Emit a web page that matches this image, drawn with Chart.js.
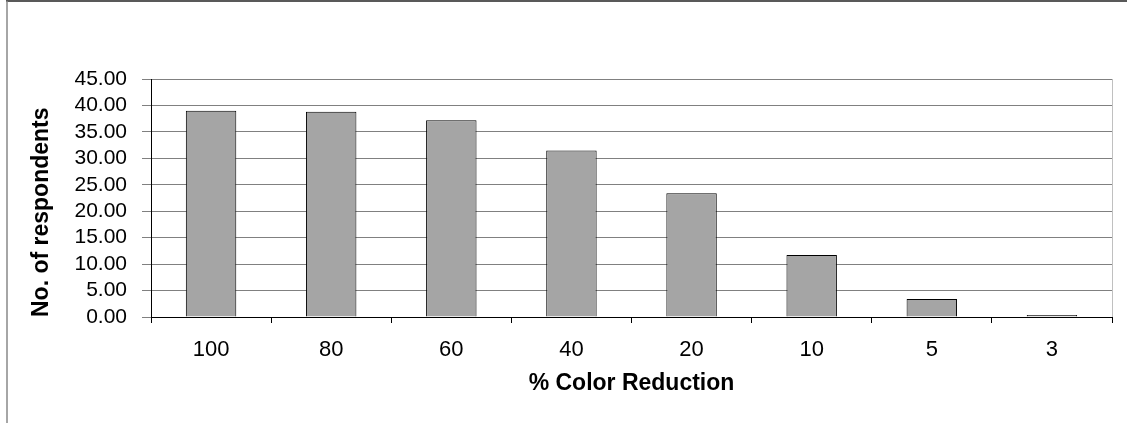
<!DOCTYPE html>
<html>
<head>
<meta charset="utf-8">
<script src="https://cdn.jsdelivr.net/npm/chart.js@4/dist/chart.umd.min.js"></script>
<style>
  html, body { margin: 0; padding: 0; background: #fff; }
  #wrap { width: 1127px; height: 423px; position: relative; }
</style>
</head>
<body>
<div id="wrap"><canvas id="chart" width="1127" height="423"></canvas></div>
<script>
// data
const reductions = ['100', '80', '60', '40', '20', '10', '5', '3'];
const respondents = [39.0, 38.8, 37.2, 31.5, 23.4, 11.7, 3.4, 0.4];
const yMax = 45;
const yStep = 5;

const FONT = '"Liberation Sans", Arial, sans-serif';

// outer frame + light right edge of the plot area
const framePlugin = {
  id: 'frame',
  afterDraw(chart) {
    const ctx = chart.ctx;
    const a = chart.chartArea;
    ctx.save();
    ctx.strokeStyle = '#c0c0c0';
    ctx.lineWidth = 1;
    ctx.beginPath();
    ctx.moveTo(Math.round(a.right) + 0.5, a.top);
    ctx.lineTo(Math.round(a.right) + 0.5, a.bottom);
    ctx.stroke();
    ctx.strokeStyle = '#222';
    ctx.lineWidth = 1.5;
    ctx.beginPath();
    ctx.moveTo(6, 1);
    ctx.lineTo(chart.width, 1);
    ctx.stroke();
    ctx.strokeStyle = '#888';
    ctx.lineWidth = 1.5;
    ctx.beginPath();
    ctx.moveTo(7, 1);
    ctx.lineTo(7, chart.height);
    ctx.stroke();
    ctx.restore();
  }
};

new Chart(document.getElementById('chart').getContext('2d'), {
  type: 'bar',
  data: {
    labels: reductions,
    datasets: [{
      data: respondents,
      backgroundColor: '#a5a5a5',
      borderColor: '#000',
      borderWidth: 1,
      barPercentage: 0.42,
      categoryPercentage: 1
    }]
  },
  options: {
    responsive: false,
    animation: false,
    layout: { padding: { top: 79, right: 15, left: 0, bottom: 0 } },
    plugins: {
      legend: { display: false },
      tooltip: { enabled: false }
    },
    scales: {
      x: {
        offset: true,
        grid: { offset: true, drawOnChartArea: false, drawTicks: true, tickLength: 6, color: '#000' },
        border: { display: true, color: '#000', width: 1 },
        ticks: { color: '#000', padding: 14, font: { family: FONT, size: 22 } },
        title: {
          display: true,
          text: '% Color Reduction',
          color: '#000',
          font: { family: FONT, size: 23, weight: 'bold' },
          padding: { top: 0, bottom: 26 }
        },
        afterFit: s => { s.height = 106; }
      },
      y: {
        min: 0,
        max: yMax,
        ticks: {
          stepSize: yStep,
          autoSkip: false,
          color: '#000',
          padding: 15,
          font: { family: FONT, size: 21 },
          callback: v => v.toFixed(2)
        },
        grid: { color: '#808080', lineWidth: 1, tickLength: 9 },
        border: { display: true, color: '#000', width: 1 },
        title: {
          display: true,
          text: 'No. of respondents',
          align: 'start',
          color: '#000',
          font: { family: FONT, size: 23, weight: 'bold' },
          padding: { top: 28, bottom: 0 }
        },
        afterFit: s => { s.width = 151; }
      }
    }
  },
  plugins: [framePlugin]
});
</script>
</body>
</html>
